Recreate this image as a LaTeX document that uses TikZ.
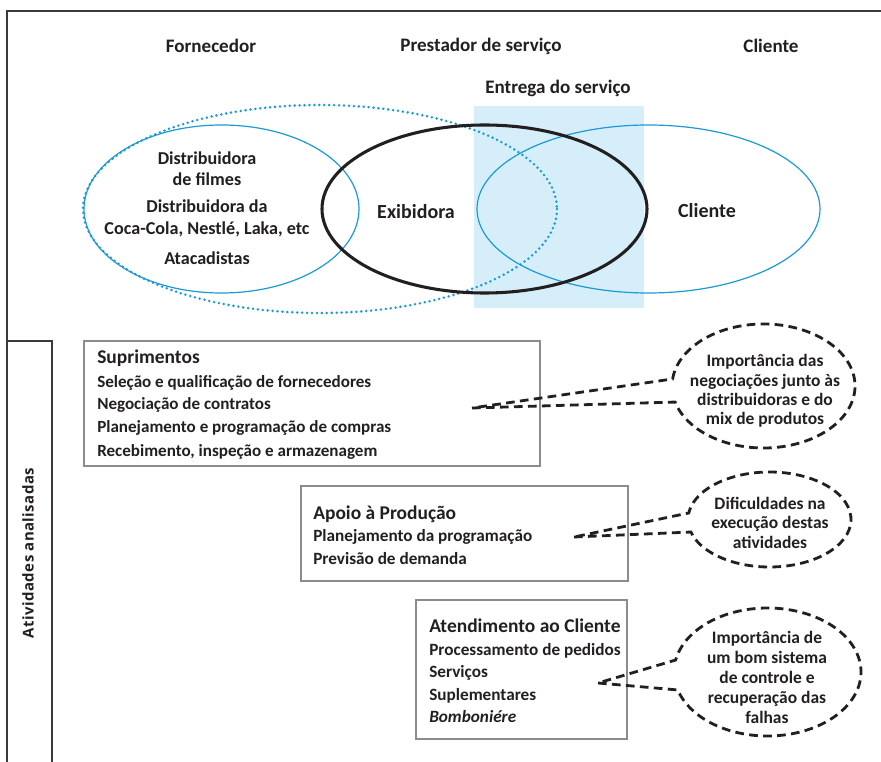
\documentclass[tikz,border=0pt]{standalone}
\usepackage{fontspec}
\setmainfont{Carlito}
\newfontfamily\sidefont{Open Sans}
\usetikzlibrary{calc}
\definecolor{lineblue}{HTML}{1B9AD6}
\definecolor{fillblue}{HTML}{D6EEF9}
\definecolor{ink}{HTML}{231F20}
\definecolor{boxgray}{HTML}{8C8C8C}
\definecolor{framegray}{HTML}{3A3A3A}
\begin{document}
\begin{tikzpicture}[x=0.75pt,y=-0.75pt,
  txt/.style={text=ink,inner sep=0pt,font=\bfseries\fontsize{12}{14.5}\selectfont},
  headtxt/.style={txt,font=\bfseries\fontsize{14.3}{16}\selectfont},
  venntxt/.style={txt,align=center,font=\bfseries\fontsize{13.6}{16}\selectfont},
  bigvenn/.style={txt,font=\bfseries\fontsize{15}{17}\selectfont},
  boxtitle/.style={txt,anchor=base west,font=\bfseries\fontsize{14.6}{16}\selectfont},
  itemA/.style={txt,anchor=base west,font=\bfseries\fontsize{12.8}{14}\selectfont},
  itemB/.style={txt,anchor=base west,font=\bfseries\fontsize{12.9}{14}\selectfont},
  calltxt/.style={txt,align=center,font=\bfseries\fontsize{13.1}{14.6}\selectfont},
  actbox/.style={draw=boxgray,line width=0.8pt},
  callout/.style={draw=ink,line width=2.1pt,dash pattern=on 6.5pt off 4pt},
  blueline/.style={draw=lineblue,line width=0.9pt},
]
\useasboundingbox (0,0) rectangle (881,762);
\fill[white] (0,0) rectangle (881,762);

% frame
\draw[framegray,line width=1.1pt] (7,762) -- (7,11) -- (881,11);
\draw[framegray,line width=1.1pt] (7,341) -- (52,341) -- (52,762);
\node[rotate=90,text=ink,inner sep=0pt,font=\sidefont\bfseries\fontsize{11.2}{13}\selectfont\addfontfeature{LetterSpace=3}] (side) at (28,553) {Atividades analisadas};

% headers
\node[headtxt] (hforn) at (211,46) {Fornecedor};
\node[headtxt] (hprest) at (481,46) {Prestador de serviço};
\node[headtxt] (hcli) at (771,46) {Cliente};
\node[headtxt] (hentr) at (558,88) {Entrega do serviço};

% venn
\fill[fillblue] (474,106) rectangle (644,308);
\coordinate (cdot) at (320,209);
\coordinate (cforn) at (221.5,209);
\coordinate (cexib) at (484.5,209);
\coordinate (ccli) at (648.5,209);
\draw[lineblue,line width=2.1pt,line cap=round,dash pattern=on 0pt off 3.7pt] (cdot) ellipse [x radius=237,y radius=104];
\draw[blueline] (cforn) ellipse [x radius=137.5,y radius=84];
\draw[blueline] (ccli) ellipse [x radius=171.5,y radius=84];
\draw[ink,line width=2.3pt] (cexib) ellipse [x radius=162.5,y radius=84];

\node[venntxt] (v1) at (207,169) {Distribuidora\\de filmes};
\node[venntxt] (v2) at (207,218.5) {Distribuidora da\\Coca-Cola, Nestlé, Laka, etc};
\node[venntxt] (v3) at (207,258) {Atacadistas};
\node[bigvenn] (vexib) at (416,212) {Exibidora};
\node[bigvenn] (vcli) at (707,211) {Cliente};

% box 1
\draw[actbox] (84,341) rectangle (540,466);
\node[boxtitle] (s0) at (97,364) {Suprimentos};
\node[itemA] (s1) at (97,388) {Seleção e qualificação de fornecedores};
\node[itemA] (s2) at (97,410) {Negociação de contratos};
\node[itemA] (s3) at (97,433) {Planejamento e programação de compras};
\node[itemA] (s4) at (97,456) {Recebimento, inspeção e armazenagem};

% box 2
\draw[actbox] (301,486) rectangle (628,581);
\node[boxtitle] (p0) at (313,519) {Apoio à Produção};
\node[itemB] (p1) at (313,541) {Planejamento da programação};
\node[itemB] (p2) at (313,564) {Previsão de demanda};

% box 3
\draw[actbox] (416,600) rectangle (627,739);
\node[boxtitle] (a0) at (429,632) {Atendimento ao Cliente};
\node[itemB] (a1) at (429,655) {Processamento de pedidos};
\node[itemB] (a2) at (429,677) {Serviços};
\node[itemB] (a3) at (429,700) {Suplementares};
\node[itemB,font=\bfseries\itshape\fontsize{12.9}{14}\selectfont] (a4) at (429,722) {Bomboniére};

% callout 1
\coordinate (k1) at (763.5,386);
\coordinate (tip1) at (472,408);
\draw[callout] (tip1) -- ($(k1)+(165:91.5 and 62)$) arc[start angle=165,end angle=-173.5,x radius=91.5,y radius=62] -- (tip1);
\node[calltxt] (c1) at (765,391) {Importância das\\negociações junto às\\distribuidoras e do\\mix de produtos};

% callout 2
\coordinate (k2) at (769.5,519.5);
\coordinate (tip2) at (574,537);
\draw[callout] (tip2) -- ($(k2)+(164.7:81.5 and 47.5)$) arc[start angle=164.7,end angle=-172.1,x radius=81.5,y radius=47.5] -- (tip2);
\node[calltxt] (c2) at (770,522.5) {Dificuldades na\\execução destas\\atividades};

% callout 3
\coordinate (k3) at (767.5,672);
\coordinate (tip3) at (598,683);
\draw[callout] (tip3) -- ($(k3)+(163.7:93.5 and 64)$) arc[start angle=163.7,end angle=-169.2,x radius=93.5,y radius=64] -- (tip3);
\node[calltxt,font=\bfseries\fontsize{13.1}{15}\selectfont] (c3) at (767,677) {Importância de\\um bom sistema\\de controle e\\recuperação das\\falhas};
\end{tikzpicture}
\end{document}
